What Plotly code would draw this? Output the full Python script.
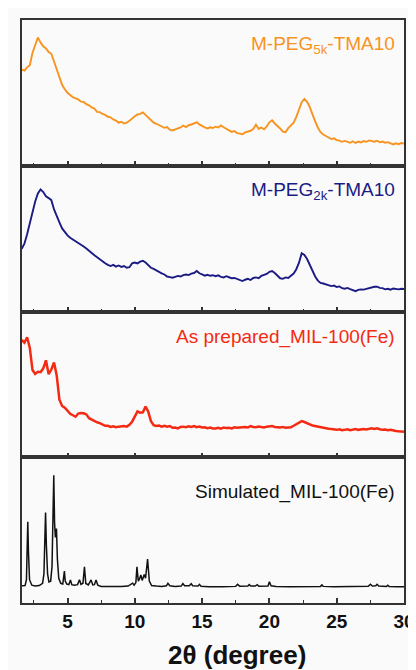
import plotly.graph_objects as go
from plotly.subplots import make_subplots

# ---- shared 2-theta grid for measured patterns (degrees) ----
two_theta = [
    1.6, 1.8,
    2.0, 2.2, 2.4, 2.6, 2.8,
    3.0, 3.2, 3.4, 3.6, 3.8,
    4.0, 4.2, 4.4, 4.6, 4.8,
    5.0, 5.2, 5.4, 5.6, 5.8,
    6.0, 6.2, 6.4, 6.6, 6.8,
    7.0, 7.2, 7.4, 7.6, 7.8,
    8.0, 8.2, 8.4, 8.6, 8.8,
    9.0, 9.2, 9.4, 9.6, 9.8,
    10.0, 10.2, 10.4, 10.6, 10.8,
    11.0, 11.2, 11.4, 11.6, 11.8,
    12.0, 12.2, 12.4, 12.6, 12.8,
    13.0, 13.2, 13.4, 13.6, 13.8,
    14.0, 14.2, 14.4, 14.6, 14.8,
    15.0, 15.2, 15.4, 15.6, 15.8,
    16.0, 16.2, 16.4, 16.6, 16.8,
    17.0, 17.2, 17.4, 17.6, 17.8,
    18.0, 18.2, 18.4, 18.6, 18.8,
    19.0, 19.2, 19.4, 19.6, 19.8,
    20.0, 20.2, 20.4, 20.6, 20.8,
    21.0, 21.2, 21.4, 21.6, 21.8,
    22.0, 22.2, 22.4, 22.6, 22.8,
    23.0, 23.2, 23.4, 23.6, 23.8,
    24.0, 24.2, 24.4, 24.6, 24.8,
    25.0, 25.2, 25.4, 25.6, 25.8,
    26.0, 26.2, 26.4, 26.6, 26.8,
    27.0, 27.2, 27.4, 27.6, 27.8,
    28.0, 28.2, 28.4, 28.6, 28.8,
    29.0, 29.2, 29.4, 29.6, 29.8,
    30.0,
]

peg5k = [
    66.0, 65.3,
    67.5, 69.0, 77.5, 83.0, 88.0,
    84.5, 82.0, 80.5, 78.0, 76.8,
    71.5, 65.0, 60.0, 55.5, 52.5,
    50.0, 48.6, 47.0, 46.2, 45.5,
    44.0, 43.8, 42.2, 41.5, 40.0,
    39.2, 37.0, 36.8, 35.5, 34.9,
    33.6, 33.2, 31.8, 31.0, 29.6,
    30.2, 29.0, 29.5, 30.8, 32.6,
    34.0, 35.2, 35.6, 36.6, 35.0,
    33.2, 31.2, 29.6, 28.8, 27.9,
    27.2, 26.0, 26.6, 24.8, 24.2,
    25.1, 25.6, 26.3, 27.6, 26.5,
    27.8, 28.3, 29.0, 29.8, 28.4,
    27.1, 26.3, 25.6, 26.4, 25.9,
    26.8, 26.2, 27.6, 26.4, 25.2,
    24.0, 23.2, 23.8, 22.4, 22.0,
    21.6, 22.9, 23.4, 24.0, 25.2,
    28.2, 25.4, 26.2, 25.0, 27.0,
    29.8, 31.2, 29.0, 27.4, 25.6,
    23.4, 23.0, 25.8, 27.8, 29.6,
    33.5, 38.8, 43.6, 45.8, 43.8,
    40.2, 35.0, 30.4, 26.2, 23.0,
    21.4, 20.2, 19.6, 18.3, 18.8,
    17.6, 17.2, 16.4, 17.0, 16.2,
    15.8, 16.8, 15.6, 16.6, 16.0,
    16.9, 16.4, 17.4, 17.0, 16.5,
    17.2, 16.1, 16.6, 15.8, 16.2,
    15.3, 14.6, 15.4, 14.8, 15.6,
    15.2,
]

peg2k = [
    43.0, 46.5,
    53.0, 60.5, 68.5, 75.5, 81.0,
    83.8, 82.0, 79.0, 77.8, 76.4,
    70.0, 65.0, 61.2, 57.0, 54.4,
    52.2, 50.6, 49.5, 48.3, 46.8,
    45.8, 44.6, 43.2, 41.9, 40.2,
    38.6, 37.2, 35.6, 34.0, 33.1,
    32.0, 31.2, 32.0, 30.8, 31.6,
    30.6, 31.2, 30.0, 30.4, 33.0,
    33.6, 33.0, 34.2, 34.8, 33.6,
    32.0, 30.0, 29.2, 28.0, 27.0,
    26.2, 25.4, 24.0, 23.6, 23.2,
    23.8, 24.4, 24.0, 25.0, 25.4,
    25.0, 26.0, 26.4, 27.8, 26.2,
    25.4, 24.6, 25.2, 24.5, 24.9,
    24.2, 24.8, 23.8, 23.4, 24.2,
    23.5, 22.8, 23.0, 22.2, 21.4,
    20.9, 21.8, 22.4, 21.6, 23.0,
    23.4, 22.9, 24.4, 25.2, 25.8,
    27.2, 27.8, 26.4, 24.4, 22.8,
    22.4, 23.4, 23.0, 24.8, 26.0,
    29.0, 33.5, 40.0, 38.8, 36.0,
    32.0, 27.8, 24.0, 21.2, 19.6,
    19.2, 18.6, 18.0, 17.4, 17.8,
    16.8, 17.2, 16.0, 15.6, 16.2,
    15.4, 14.6, 14.0, 14.8, 15.2,
    15.0, 15.6, 15.8, 16.4, 17.0,
    17.0, 16.2, 16.0, 15.2, 15.6,
    15.0, 15.8, 15.4, 15.2, 15.6,
    15.4,
]

as_prepared = [
    80.5, 78.6,
    82.3, 75.0, 59.8, 57.2, 58.6,
    58.4, 61.0, 66.5, 57.0, 60.2,
    65.0, 56.0, 39.5, 35.2, 34.0,
    31.8, 29.8, 28.8, 27.8, 30.0,
    30.4, 30.2, 29.4, 26.8, 25.8,
    24.8, 24.0, 23.4, 22.4, 21.6,
    21.6, 20.8, 21.2, 20.6, 21.0,
    21.2, 21.4, 21.0, 22.2, 24.4,
    28.2, 31.4, 30.6, 30.8, 34.8,
    31.2, 24.8, 22.0, 21.4, 21.8,
    21.0, 21.6, 21.0, 21.4, 20.2,
    20.4, 19.8, 20.8, 21.0, 20.6,
    21.2, 20.8, 21.4, 20.6, 21.0,
    20.4, 20.6, 20.0, 20.4, 19.8,
    19.8, 20.2, 19.6, 20.4, 20.0,
    20.2, 19.8, 20.6, 20.2, 20.4,
    20.6, 20.8, 20.4, 21.4, 20.8,
    20.6, 21.0, 20.8, 20.4, 21.0,
    21.2, 21.4, 20.8, 20.6, 20.4,
    20.8, 20.2, 20.4, 20.6, 21.6,
    22.8, 24.0, 24.8, 24.2, 23.6,
    22.6, 21.8, 21.4, 20.8, 20.6,
    20.2, 19.8, 19.6, 19.4, 19.0,
    18.8, 19.2, 18.6, 18.8, 19.2,
    18.6, 19.0, 19.4, 18.8, 19.2,
    19.4, 19.0, 19.6, 19.8, 19.4,
    19.8, 19.2, 18.8, 19.0, 18.6,
    18.8, 18.2, 18.0, 17.8, 17.6,
    17.5,
]

# ---- simulated pattern (its own 2-theta points) ----
sim_two_theta = [
    1.62, 1.85, 1.95, 2.0, 2.05, 2.1, 2.18, 2.35, 2.6, 2.9,
    3.15, 3.25, 3.32, 3.37, 3.43, 3.52, 3.62, 3.75, 3.85, 3.92,
    3.98, 4.04, 4.1, 4.18, 4.25, 4.35, 4.5, 4.65, 4.72, 4.77,
    4.83, 4.95, 5.1, 5.22, 5.32, 5.5, 5.75, 5.89, 6.0, 6.15,
    6.26, 6.36, 6.55, 6.75, 6.88, 7.0, 7.12, 7.25, 7.5, 8.0,
    8.5, 9.0, 9.5, 9.84, 9.95, 10.08, 10.16, 10.26, 10.35, 10.45,
    10.55, 10.7, 10.8, 10.95, 11.08, 11.25, 11.6, 12.0, 12.35, 12.46,
    12.6, 13.0, 13.45, 13.57, 13.7, 14.05, 14.19, 14.3, 14.7, 14.8,
    14.92, 15.5, 16.5, 17.5, 17.64, 17.8, 18.4, 18.5, 18.62, 18.95,
    19.1, 19.22, 19.9, 20.0, 20.12, 20.5, 21.5, 22.5, 23.8, 23.9,
    24.0, 24.8, 25.5, 26.5, 27.35, 27.5, 27.65, 27.9, 28.0, 28.12,
    28.7, 28.8, 28.9, 29.5, 30.0,
]
simulated = [
    11.8, 12.0, 16.0, 35.0, 55.7, 35.0, 16.0, 12.2, 11.6, 12.0,
    13.5, 20.0, 40.0, 62.1, 40.0, 20.0, 14.5, 15.0, 25.0, 55.0,
    87.7, 55.0, 45.0, 51.1, 30.0, 17.0, 13.5, 13.0, 17.0, 21.9,
    15.0, 13.0, 12.6, 15.8, 12.6, 12.2, 12.6, 16.0, 12.8, 13.6,
    24.9, 13.4, 12.4, 15.8, 12.4, 12.6, 15.8, 12.2, 11.4, 11.2,
    11.2, 11.3, 11.6, 13.6, 12.2, 14.0, 24.9, 15.0, 16.5, 19.2,
    15.5, 19.6, 17.0, 30.1, 15.0, 12.0, 11.6, 11.4, 11.8, 13.5,
    11.8, 11.4, 11.6, 13.3, 11.8, 11.8, 13.2, 11.8, 11.6, 12.8,
    11.5, 11.2, 11.2, 11.4, 12.8, 11.5, 11.6, 12.6, 11.6, 11.6,
    12.6, 11.5, 11.6, 14.6, 11.8, 11.3, 11.2, 11.2, 11.4, 12.4,
    11.4, 11.2, 11.2, 11.2, 11.5, 12.9, 11.7, 11.8, 12.8, 11.6,
    11.4, 12.2, 11.3, 11.2, 11.2,
]

labels = ["M-PEG<sub>5k</sub>-TMA10", "M-PEG<sub>2k</sub>-TMA10",
          "As prepared_MIL-100(Fe)", "Simulated_MIL-100(Fe)"]
colors = ["#F7931E", "#1B1B85", "#F42A12", "#111111"]
x_ticks = [5, 10, 15, 20, 25, 30]

FONT = "Liberation Sans, Arial, sans-serif"
BG = "#fafafa"

fig = make_subplots(rows=4, cols=1, shared_xaxes=True, vertical_spacing=0)

series = [(two_theta, peg5k), (two_theta, peg2k), (two_theta, as_prepared),
          (sim_two_theta, simulated)]
widths = [1.9, 1.9, 2.5, 1.5]
for i, ((xs, ys), c, w) in enumerate(zip(series, colors, widths)):
    fig.add_trace(go.Scatter(x=xs, y=ys, mode="lines",
                             line=dict(color=c, width=w), showlegend=False,
                             hoverinfo="skip"), row=i + 1, col=1)

for i in range(4):
    fig.update_xaxes(row=i + 1, col=1, range=[1.62, 30], showline=True,
                     linecolor="#333333", linewidth=1.5, mirror=True,
                     showgrid=False, zeroline=False, ticks="inside",
                     tickvals=x_ticks, ticklen=5, tickwidth=1.5,
                     tickcolor="#333333", automargin=False,
                     minor=dict(ticks="inside", ticklen=3, tickwidth=1.2,
                                tickcolor="#333333", dtick=2.5, tick0=0,
                                showgrid=False),
                     showticklabels=(i == 3),
                     tickfont=dict(family=FONT, size=19, color="#111111",
                                   weight="bold"))
    fig.update_yaxes(row=i + 1, col=1, range=[0, 100], showline=True,
                     linecolor="#333333", linewidth=1.5, mirror=True,
                     showgrid=False, zeroline=False, ticks="",
                     showticklabels=False, automargin=False)

label_y = [0.957, 0.707, 0.456, 0.191]
for txt, c, yy in zip(labels, colors, label_y):
    fig.add_annotation(text=txt, xref="paper", yref="paper", x=0.982, y=yy,
                       xanchor="right", yanchor="middle", showarrow=False,
                       font=dict(family=FONT, size=19, color=c))

fig.add_annotation(text="2θ (degree)", xref="paper", yref="paper",
                   x=0.564, y=-0.089, xanchor="center", yanchor="middle",
                   showarrow=False,
                   font=dict(family=FONT, size=26, color="#111111",
                             weight="bold"))

# the page body keeps an 8px margin, so the figure is sized to fit
fig.update_layout(width=408, height=662,
                  margin=dict(l=14, r=12, t=12, b=67),
                  plot_bgcolor=BG, paper_bgcolor=BG)

fig.write_html("out.html")
